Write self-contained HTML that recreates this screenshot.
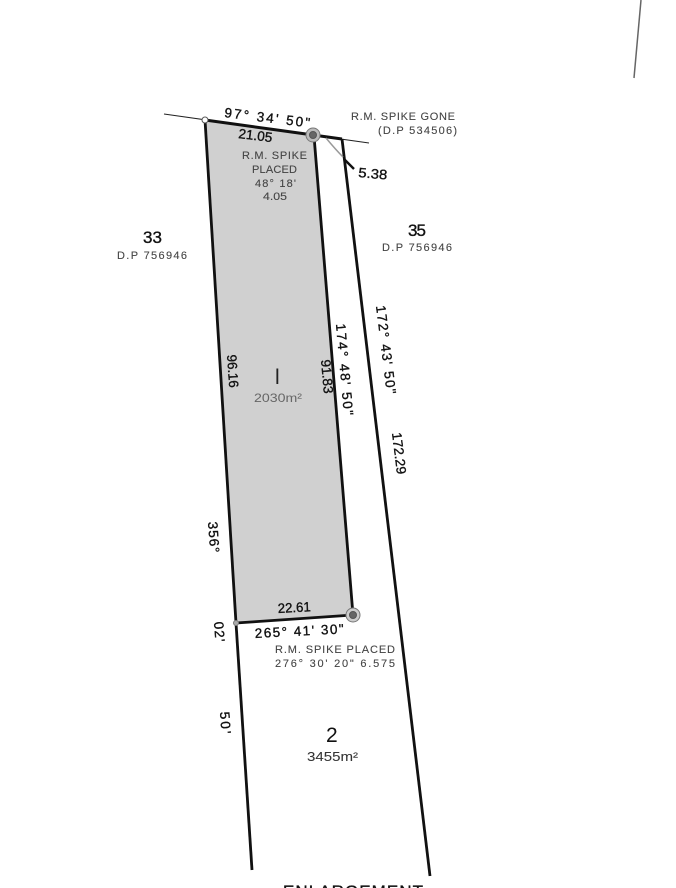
<!DOCTYPE html>
<html><head><meta charset="utf-8"><style>
html,body{margin:0;padding:0;background:#fff;width:676px;height:888px;overflow:hidden}
svg{display:block;filter:blur(.35px)}
text{font-family:"Liberation Sans",sans-serif;fill:#222}
.d{fill:#444;font-size:11px;stroke:#444;stroke-width:.1}
.m{fill:#111;font-size:13.5px;stroke:#111;stroke-width:.35}
</style></head><body>
<svg width="676" height="888" viewBox="0 0 676 888" xmlns="http://www.w3.org/2000/svg">
<polygon points="205,120 313,136 353,615 236,623" fill="#d0d0d0"/>
<line x1="164" y1="114" x2="369" y2="143" stroke="#222" stroke-width="1.1"/>
<line x1="205" y1="120" x2="342" y2="139" stroke="#111" stroke-width="3"/>
<line x1="205" y1="120" x2="236" y2="623" stroke="#111" stroke-width="2.8"/>
<line x1="236" y1="623" x2="252" y2="870" stroke="#111" stroke-width="2.8"/>
<line x1="314" y1="136" x2="353" y2="615" stroke="#111" stroke-width="2.8"/>
<line x1="342" y1="139" x2="430" y2="876" stroke="#111" stroke-width="2.8"/>
<line x1="236" y1="623" x2="353" y2="615" stroke="#111" stroke-width="2.8"/>
<line x1="634" y1="78" x2="641" y2="0" stroke="#666" stroke-width="1.5"/>
<circle cx="205" cy="120" r="3" fill="#fff" stroke="#555"/>
<circle cx="236" cy="623" r="2.5" fill="#aaa" stroke="#777"/>
<circle cx="313" cy="135" r="7" fill="#bbb" stroke="#777" stroke-width="1"/>
<circle cx="313" cy="135" r="3.5" fill="#666" stroke="#555"/>
<circle cx="353" cy="615" r="7" fill="#ccc" stroke="#777" stroke-width="1"/>
<circle cx="353" cy="615" r="3.5" fill="#666" stroke="#555"/>
<path d="M326,138 Q336,150 343,157" fill="none" stroke="#999" stroke-width="1.5"/>
<path d="M344,159 L354,169" stroke="#111" stroke-width="2.4" fill="none"/>

<text class="m" transform="translate(224,117) rotate(7)" textLength="86" lengthAdjust="spacing">97° 34' 50"</text>
<text class="m" transform="translate(238,138) rotate(7)" textLength="34" lengthAdjust="spacingAndGlyphs">21.05</text>
<text class="d" x="351" y="120" textLength="104">R.M. SPIKE GONE</text>
<text class="d" x="378" y="134" textLength="79">(D.P 534506)</text>
<text class="d" x="242" y="159" textLength="65">R.M. SPIKE</text>
<text class="d" x="252" y="173" textLength="45">PLACED</text>
<text class="d" x="255" y="187" textLength="41">48° 18'</text>
<text class="d" x="263" y="200" textLength="24" lengthAdjust="spacingAndGlyphs">4.05</text>
<text class="m" transform="translate(358,177) rotate(5)" textLength="29" lengthAdjust="spacingAndGlyphs">5.38</text>
<text class="m" x="408" y="236" textLength="18" style="font-size:17px">35</text>
<text class="d" x="382" y="251" textLength="70">D.P 756946</text>
<text class="m" x="143" y="243" textLength="19" style="font-size:17px">33</text>
<text class="d" x="117" y="259" textLength="70">D.P 756946</text>
<text class="m" transform="translate(376,306) rotate(83)" textLength="89">172° 43' 50"</text>
<text class="m" transform="translate(392,433) rotate(83)" textLength="42" lengthAdjust="spacingAndGlyphs">172.29</text>
<text class="m" transform="translate(336,324) rotate(85)" textLength="92">174° 48' 50"</text>
<text class="m" transform="translate(321,360) rotate(85)" textLength="34" lengthAdjust="spacingAndGlyphs">91.83</text>
<text class="m" transform="translate(227,355) rotate(86)" textLength="33" lengthAdjust="spacingAndGlyphs">96.16</text>
<text x="275" y="384" style="font-size:21px;fill:#222">l</text>
<text class="d" x="254" y="402" textLength="48" lengthAdjust="spacingAndGlyphs" style="font-size:12px;fill:#666;stroke:none">2030m²</text>
<text class="m" transform="translate(208,522) rotate(86)" textLength="31">356°</text>
<text class="m" transform="translate(214,622) rotate(86)" textLength="20">02'</text>
<text class="m" transform="translate(220,712) rotate(86)" textLength="22">50'</text>
<text class="m" transform="translate(278,613) rotate(-3)" textLength="33" lengthAdjust="spacingAndGlyphs">22.61</text>
<text class="m" transform="translate(255,638) rotate(-3)" textLength="89">265° 41' 30"</text>
<text class="d" x="275" y="653" textLength="120">R.M. SPIKE PLACED</text>
<text class="d" x="275" y="667" textLength="120">276° 30' 20" 6.575</text>
<text class="m" x="326" y="742" style="font-size:21px;stroke:none">2</text>
<text class="d" x="307" y="761" textLength="51" lengthAdjust="spacingAndGlyphs" style="font-size:13px;fill:#333">3455m²</text>
<text class="m" x="283" y="897" textLength="140" style="font-size:17px">ENLARGEMENT</text>
</svg>
</body></html>
